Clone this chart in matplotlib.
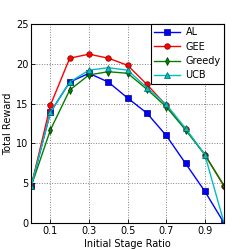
import matplotlib
matplotlib.use("Agg")
import matplotlib.pyplot as plt

# initial stage ratio
ratios = [0.0, 0.1, 0.2, 0.3, 0.4, 0.5, 0.6, 0.7, 0.8, 0.9, 1.0]

al = [4.6, 13.9, 17.7, 18.8, 17.7, 15.7, 13.8, 11.0, 7.5, 4.0, 0.0]
gee = [4.6, 14.8, 20.7, 21.2, 20.7, 19.8, 17.4, 14.8, 11.8, 8.6, 4.6]
greedy = [4.6, 11.7, 16.7, 18.6, 19.0, 18.8, 16.8, 14.6, 11.7, 8.6, 4.7]
ucb = [4.6, 13.9, 17.7, 19.2, 19.5, 19.2, 17.0, 14.9, 11.9, 8.6, 0.0]

xticks = [0.1, 0.3, 0.5, 0.7, 0.9]
yticks = [0, 5, 10, 15, 20, 25]

plt.rcParams['font.family'] = ['DejaVu Sans']
plt.rcParams['font.size'] = 7

fig, ax = plt.subplots(figsize=(2.49, 2.49), dpi=100)
ax.plot(ratios, al, color='blue', marker='s', markersize=4, lw=1,
        markeredgecolor='#000080', markeredgewidth=0.5, label='AL')
ax.plot(ratios, gee, color='red', marker='o', markersize=4, lw=1,
        markeredgecolor='#800000', markeredgewidth=0.5, label='GEE')
ax.plot(ratios, greedy, color='green', marker='d', markersize=4, lw=1,
        markeredgecolor='#003000', markeredgewidth=0.5, label='Greedy')
ax.plot(ratios, ucb, color='#00bfbf', marker='^', markersize=4, lw=1,
        markeredgecolor='#006060', markeredgewidth=0.5, label='UCB')

ax.set_xlim(0, 1)
ax.set_ylim(0, 25)
ax.set_xticks(xticks)
ax.set_yticks(yticks)
ax.tick_params(direction='in', length=3, width=0.6, pad=2)
ax.grid(True, linestyle=':', color='gray', lw=0.7)
for s in ax.spines.values():
    s.set_linewidth(0.8)
ax.set_xlabel('Initial Stage Ratio', labelpad=2)
ax.set_ylabel('Total Reward', labelpad=2)
leg = ax.legend(loc='upper right', fancybox=False, framealpha=1, edgecolor='black',
                handlelength=2.6, borderpad=0.35, labelspacing=0.45, borderaxespad=0.0,
                handletextpad=0.6)
leg.get_frame().set_linewidth(0.8)

fig.subplots_adjust(left=0.125, right=0.9, bottom=0.104, top=0.904)
fig.savefig('out.png', dpi=100)
